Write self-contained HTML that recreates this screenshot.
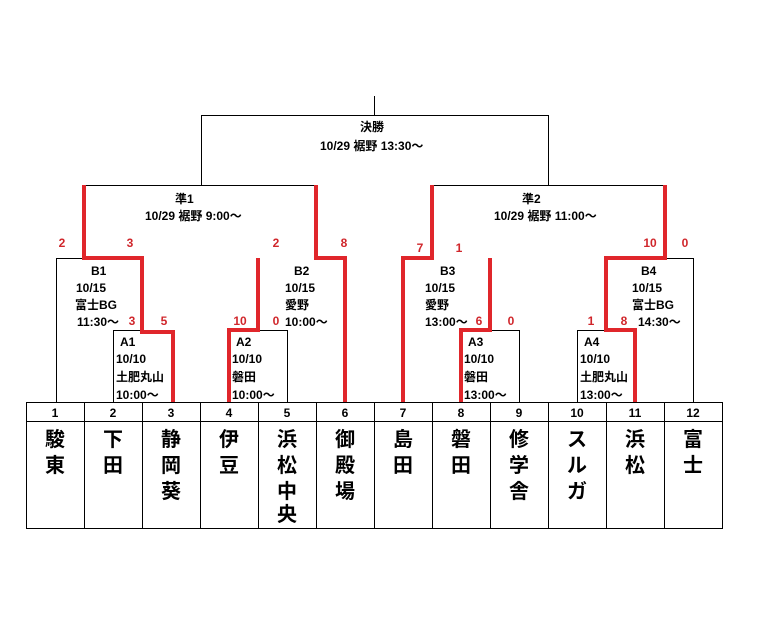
<!DOCTYPE html>
<html><head><meta charset="utf-8"><style>
html,body{margin:0;padding:0;background:#fff;width:757px;height:619px;overflow:hidden}
svg text{font-family:"Liberation Sans","Noto Sans CJK JP",sans-serif;font-weight:bold}
</style></head><body>
<svg width="757" height="619" viewBox="0 0 757 619" xmlns="http://www.w3.org/2000/svg">
<g stroke="#000" stroke-width="1" fill="none">
<path d="M374.5 96V115.5M201.5 185V115.5H548.5V185"/>
<path d="M84 185.5H316M432 185.5H665"/>
<path d="M56.5 402V258.5H84M113.5 402V330.5H142M287.5 402V330.5H258"/>
<path d="M490 258.5H490M519.5 402V330.5H490M577.5 402V330.5H606M693.5 402V258.5H665"/>
<path d="M403 258.5H432M258 258.5H258"/>
<rect x="26.5" y="402.5" width="696" height="126"/>
<path d="M26.5 421.5H722.5"/>
<path d="M84.5 402V528M142.5 402V528M200.5 402V528M258.5 402V528M316.5 402V528M374.5 402V528M432.5 402V528M490.5 402V528M548.5 402V528M606.5 402V528M664.5 402V528"/>
</g>
<g stroke="#e0262b" stroke-width="4" fill="none" stroke-linejoin="miter">
<path d="M84 185V258H142V332H173V402"/>
<path d="M316 185V258H345V402"/>
<path d="M258 258V330H229V402"/>
<path d="M432 185V258H403V402"/>
<path d="M490 258V330H461V402"/>
<path d="M665 185V258H606V330H635V402"/>
</g>
<g font-size="12" fill="#000">
<text x="360" y="131">決勝</text>
<text x="320" y="150">10/29  裾野  13:30～</text>
<text x="175" y="203">準1</text>
<text x="145" y="220">10/29 裾野  9:00～</text>
<text x="522" y="203">準2</text>
<text x="494" y="220">10/29  裾野  11:00～</text>
<text x="91" y="275">B1</text><text x="76" y="292">10/15</text><text x="75" y="309">富士BG</text><text x="77" y="326">11:30～</text>
<text x="294" y="275">B2</text><text x="285" y="292">10/15</text><text x="285" y="309">愛野</text><text x="285" y="326">10:00～</text>
<text x="440" y="275">B3</text><text x="425" y="292">10/15</text><text x="425" y="309">愛野</text><text x="425" y="326">13:00～</text>
<text x="641" y="275">B4</text><text x="632" y="292">10/15</text><text x="632" y="309">富士BG</text><text x="638" y="326">14:30～</text>
<text x="120" y="346">A1</text><text x="116" y="363">10/10</text><text x="116" y="381">土肥丸山</text><text x="116" y="399">10:00～</text>
<text x="236" y="346">A2</text><text x="232" y="363">10/10</text><text x="232" y="381">磐田</text><text x="232" y="399">10:00～</text>
<text x="468" y="346">A3</text><text x="464" y="363">10/10</text><text x="464" y="381">磐田</text><text x="464" y="399">13:00～</text>
<text x="584" y="346">A4</text><text x="580" y="363">10/10</text><text x="580" y="381">土肥丸山</text><text x="580" y="399">13:00～</text>
</g>
<g font-size="12" fill="#d0262b" text-anchor="middle">
<text x="62" y="247">2</text><text x="130" y="247">3</text>
<text x="276" y="247">2</text><text x="344" y="247">8</text>
<text x="420" y="252">7</text><text x="459" y="252">1</text>
<text x="650" y="247">10</text><text x="685" y="247">0</text>
<text x="132" y="325">3</text><text x="164" y="325">5</text>
<text x="240" y="325">10</text><text x="276" y="325">0</text>
<text x="479" y="325">6</text><text x="511" y="325">0</text>
<text x="591" y="325">1</text><text x="624" y="325">8</text>
</g>
<g font-size="12" fill="#000" text-anchor="middle">
<text x="55" y="417">1</text><text x="113" y="417">2</text><text x="171" y="417">3</text><text x="229" y="417">4</text><text x="287" y="417">5</text><text x="345" y="417">6</text><text x="403" y="417">7</text><text x="461" y="417">8</text><text x="519" y="417">9</text><text x="577" y="417">10</text><text x="635" y="417">11</text><text x="693" y="417">12</text>
</g>
<g font-size="20" fill="#000" text-anchor="middle" style="font-weight:900">
<text x="55" y="446">駿</text><text x="55" y="472">東</text>
<text x="113" y="446">下</text><text x="113" y="472">田</text>
<text x="171" y="446">静</text><text x="171" y="472">岡</text><text x="171" y="498">葵</text>
<text x="229" y="446">伊</text><text x="229" y="472">豆</text>
<text x="287" y="446">浜</text><text x="287" y="472">松</text><text x="287" y="498">中</text><text x="287" y="524" dy="-3">央</text>
<text x="345" y="446">御</text><text x="345" y="472">殿</text><text x="345" y="498">場</text>
<text x="403" y="446">島</text><text x="403" y="472">田</text>
<text x="461" y="446">磐</text><text x="461" y="472">田</text>
<text x="519" y="446">修</text><text x="519" y="472">学</text><text x="519" y="498">舎</text>
<text x="577" y="446">ス</text><text x="577" y="472">ル</text><text x="577" y="498">ガ</text>
<text x="635" y="446">浜</text><text x="635" y="472">松</text>
<text x="693" y="446">富</text><text x="693" y="472">士</text>
</g>
</svg>
</body></html>
